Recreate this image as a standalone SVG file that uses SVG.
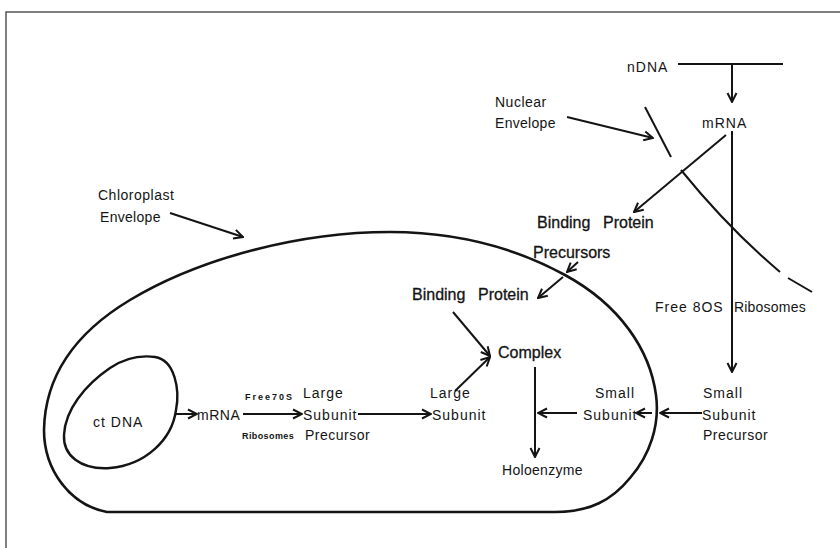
<svg xmlns="http://www.w3.org/2000/svg" width="840" height="548" viewBox="0 0 840 548">
<style>
.f{font-family:"Liberation Sans",Arial,sans-serif;font-size:14px;fill:#141414;letter-spacing:1px}
.h{font-family:"Liberation Sans",Arial,sans-serif;font-size:16px;fill:#141414;stroke:#141414;stroke-width:0.3}
.s{font-family:"Liberation Sans",Arial,sans-serif;font-size:9px;fill:#141414;letter-spacing:2px;font-weight:bold}
.ln{fill:none;stroke:#141414;stroke-width:2}
.ar{fill:none;stroke:#141414;stroke-width:2;marker-end:url(#ah)}
</style>
<defs>
<marker id="ah" viewBox="0 0 12 12" refX="11" refY="6" markerWidth="12" markerHeight="12" orient="auto" markerUnits="userSpaceOnUse">
<path d="M2,1.5 L11,6 L2,10.5" fill="none" stroke="#141414" stroke-width="2"/>
</marker>
</defs>
<rect x="0" y="0" width="840" height="548" fill="#ffffff"/>
<path d="M6,548 L6,12 L840,12" fill="none" stroke="#555" stroke-width="1.5"/>

<g id="chloroplast-envelope">
<path class="ln" style="stroke-width:2.6" d="M107,512 L555,512 C590,512 612,500 630,478 C650,455 660,425 656,395 C650,350 620,305 565,275 C510,245 450,232 390,232 C300,232 200,258 130,300 C75,333 45,375 44,430 C44,470 70,505 107,512 Z"/>
</g>
<g id="ctdna-body">
<path class="ln" style="stroke-width:2.4" d="M155,357 C175,360 180,390 176,410 C172,440 145,465 110,468 C80,470 63,455 64,435 C65,410 85,385 110,368 C125,358 140,355 155,357 Z"/>
</g>
<g id="nuclear-envelope">
<path class="ln" d="M645,107 L671,157"/>
<path class="ln" d="M681,170 Q728,228 780,272"/>
<path class="ln" d="M788,278 L812,292"/>
</g>
<g id="ndna-line">
<path class="ln" d="M678,64 L783,64"/>
</g>

<g id="connectors">
<path class="ar" d="M732,64 L732,102"/>
<path class="ln" d="M732,131 L732,300"/>
<path class="ar" d="M732,300 L732,372"/>
<path class="ar" d="M726,135 L634,212"/>
<path class="ar" d="M567,117 L653,138"/>
<path class="ar" d="M170,213 L243,237"/>
<path class="ar" d="M578,262 L567,272"/>
<path class="ar" d="M563,277 L538,298"/>
<path class="ar" d="M453,312 L490,356"/>
<path class="ar" d="M455,391 L490,357"/>
<path class="ar" d="M535,367 L535,457"/>
<path class="ar" d="M702,413 L660,413"/>
<path class="ar" d="M652,413 L636,413"/>
<path class="ar" d="M577,413 L538,413"/>
<path class="ar" d="M176,414 L197,414"/>
<path class="ar" d="M243,414 L302,414"/>
<path class="ar" d="M358,414 L431,414"/>
</g>

<g id="ndna"><text class="f" x="627" y="72">nDNA</text></g>
<g id="mrna-nuclear"><text class="f" x="702" y="128">mRNA</text></g>
<g id="nuclear-envelope-label"><text class="f" x="495" y="107" style="letter-spacing:0.5px">Nuclear</text><text class="f" x="495" y="128" style="letter-spacing:0.3px">Envelope</text></g>
<g id="chloroplast-envelope-label"><text class="f" x="98" y="200" style="letter-spacing:0.5px">Chloroplast</text><text class="f" x="100" y="222" style="letter-spacing:0.3px">Envelope</text></g>
<g id="binding-protein-precursors"><text class="h" x="537" y="228">Binding</text><text class="h" x="603" y="228">Protein</text><text class="h" x="533" y="258">Precursors</text></g>
<g id="binding-protein"><text class="h" x="412" y="300">Binding</text><text class="h" x="478" y="300">Protein</text></g>
<g id="complex"><text class="h" x="498" y="358">Complex</text></g>
<g id="free80s"><text class="f" x="655" y="312">Free 8OS</text><text class="f" x="734" y="312" style="letter-spacing:0.2px">Ribosomes</text></g>
<g id="ctdna"><text class="f" x="93" y="427">ct DNA</text></g>
<g id="mrna-chloroplast"><text class="f" x="197" y="420" style="letter-spacing:0.5px">mRNA</text></g>
<g id="free70s"><text class="s" x="245" y="400">Free70S</text><text class="s" x="242" y="439" style="letter-spacing:0.4px">Ribosomes</text></g>
<g id="large-subunit-precursor"><text class="f" x="303" y="398">Large</text><text class="f" x="303" y="420">Subunit</text><text class="f" x="305" y="440" style="letter-spacing:0.5px">Precursor</text></g>
<g id="large-subunit"><text class="f" x="430" y="398">Large</text><text class="f" x="432" y="420">Subunit</text></g>
<g id="small-subunit"><text class="f" x="595" y="398">Small</text><text class="f" x="583" y="420">Subunit</text></g>
<g id="small-subunit-precursor"><text class="f" x="703" y="398">Small</text><text class="f" x="702" y="420">Subunit</text><text class="f" x="703" y="440" style="letter-spacing:0.5px">Precursor</text></g>
<g id="holoenzyme"><text class="f" x="502" y="475" style="letter-spacing:0.3px">Holoenzyme</text></g>
</svg>
